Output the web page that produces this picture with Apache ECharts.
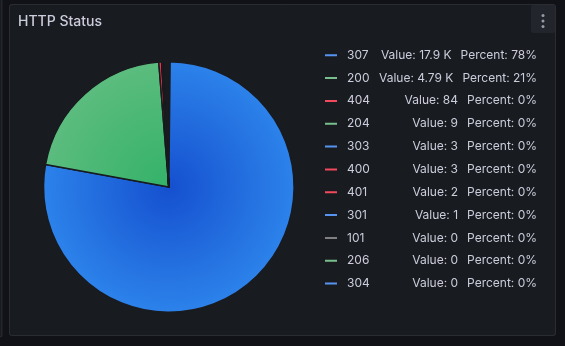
<!DOCTYPE html>
<html><head><meta charset="utf-8">
<script src="https://cdn.jsdelivr.net/npm/echarts@6/dist/echarts.min.js"></script>
<style>html,body{margin:0;padding:0;background:#111217}#c{width:565px;height:346px}</style>
</head><body><div id="c"></div>
<script>
// ---- data ----
const categories = ['307', '200', '404', '204', '303', '400', '401', '301', '101', '206', '304'];
const values = [17858, 4790, 84, 9, 3, 3, 2, 1, 0, 0, 0];
const families = ['blue', 'green', 'red', 'green', 'blue', 'red', 'red', 'blue', 'gray', 'green', 'blue'];

// ---- styles ----
const legendColor = { blue: '#5794F2', green: '#77bf8c', red: '#F2495C', gray: '#808080' };
const sliceStops = {
  blue: ['#1550cf', '#2c82ea'],
  green: ['#34b269', '#5bbc7e'],
  red: ['#c40f29', '#f2304e'],
  gray: ['#5a5a5a', '#8a8a8a']
};
const CX = 168.8, CY = 187, R = 125.3;

const total = values.reduce((a, b) => a + b, 0);
function fmtValue(v) {
  if (v >= 1000) return (v / 1000).toFixed(v >= 10000 ? 1 : 2) + ' K';
  return String(v);
}
function fmtPct(v) { return Math.round(v / total * 100) + '%'; }

const pieData = categories.map((name, i) => ({
  name: name,
  value: values[i],
  itemStyle: {
    color: {
      type: 'radial', x: CX, y: CY, r: R, global: true,
      colorStops: [
        { offset: 0, color: sliceStops[families[i]][0] },
        { offset: 1, color: sliceStops[families[i]][1] }
      ]
    }
  }
}));

const legendData = categories.map((name, i) => ({
  name: name,
  itemStyle: { color: legendColor[families[i]] }
}));

const chart = echarts.init(document.getElementById('c'), null, { renderer: 'canvas' });
chart.setOption({
  backgroundColor: '#111217',
  animation: false,
  textStyle: { fontFamily: 'Inter' },
  graphic: [
    { type: 'rect', z: 0, shape: { x: -20, y: -20, width: 22, height: 357, r: 2 },
      style: { fill: '#181b1f', stroke: 'rgba(204,204,220,0.12)', lineWidth: 1 } },
    { type: 'rect', z: 0, shape: { x: 9.5, y: 4.5, width: 546, height: 331, r: 2 },
      style: { fill: '#181b1f', stroke: 'rgba(204,204,220,0.12)', lineWidth: 1 } },
    { type: 'rect', z: 1, shape: { x: 531, y: 5, width: 24, height: 28, r: 2 },
      style: { fill: '#22252b' } },
    { type: 'circle', z: 2, shape: { cx: 543, cy: 15.5, r: 1.5 }, style: { fill: '#9a9aa6' } },
    { type: 'circle', z: 2, shape: { cx: 543, cy: 21, r: 1.5 }, style: { fill: '#9a9aa6' } },
    { type: 'circle', z: 2, shape: { cx: 543, cy: 26.5, r: 1.5 }, style: { fill: '#9a9aa6' } }
  ],
  title: {
    text: 'HTTP Status',
    left: 18, top: 15, padding: 0,
    textStyle: { color: '#ccccdc', fontSize: 14, fontWeight: 500, fontFamily: 'Inter' }
  },
  legend: {
    orient: 'vertical',
    left: 323, top: 47.2,
    padding: 0,
    itemWidth: 14, itemHeight: 4,
    itemGap: 6.84,
    icon: 'roundRect',
    selectedMode: false,
    data: legendData,
    formatter: function (name) {
      const i = categories.indexOf(name);
      return '{n|' + name + '}{v|Value: ' + fmtValue(values[i]) + '}{p|Percent: ' + fmtPct(values[i]) + '}';
    },
    textStyle: {
      color: '#ccccdc', fontSize: 12, fontFamily: 'Inter', width: 194, lineHeight: 16,
      rich: {
        n: { color: '#ccccdc', fontSize: 12, fontFamily: 'Inter', padding: [0, 0, 0, 4], lineHeight: 16 },
        v: { color: '#ccccdc', fontSize: 12, fontFamily: 'Inter', align: 'right', lineHeight: 16 },
        p: { color: '#ccccdc', fontSize: 12, fontFamily: 'Inter', align: 'right', padding: [0, 0, 0, 9], lineHeight: 16 }
      }
    }
  },
  series: [{
    type: 'pie',
    center: [CX, CY],
    radius: [0, R],
    startAngle: 89.4,
    endAngle: -267,
    clockwise: true,
    label: { show: false },
    labelLine: { show: false },
    emphasis: { disabled: true },
    itemStyle: { borderColor: '#181b1f', borderWidth: 1.5 },
    data: pieData
  }]
});
</script>
</body></html>
